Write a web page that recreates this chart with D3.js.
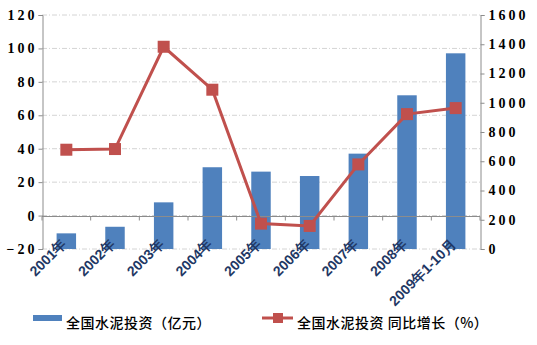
<!DOCTYPE html>
<html><head><meta charset="utf-8">
<script src="https://cdn.jsdelivr.net/npm/d3@7/dist/d3.min.js"></script>
<style>
html,body{margin:0;padding:0;background:#fff;}
svg{display:block;}
</style></head>
<body>
<svg id="chart" width="537" height="345"></svg>
<script>
const categories = ["2001年","2002年","2003年","2004年","2005年","2006年","2007年","2008年","2009年1-10月"];
const investment = [107,152,319,559,529,499,652,1051,1338];
const growth = [39.4,39.8,101,75.3,-4.8,-6.2,30.6,60.7,64.3];
const leftTicks = [-20,0,20,40,60,80,100,120];
const rightTicks = [0,200,400,600,800,1000,1200,1400,1600];
const seriesNames = ["全国水泥投资（亿元）","全国水泥投资 同比增长（%）"];

const svg = d3.select("#chart");
const L = 42, R = 480, T = 15, B = 249;
const barColor = "#4F81BD", lineColor = "#C0504D", axisColor = "#8c8c8c";

const x = d3.scaleBand().domain(categories).range([L, R]).paddingInner(0.6).paddingOuter(0.3);
const yL = d3.scaleLinear().domain([-20,120]).range([B, T]);
const yR = d3.scaleLinear().domain([0,1600]).range([B, T]);

// gridlines
svg.append("g").selectAll("line").data(leftTicks).join("line")
  .attr("x1", L).attr("x2", R).attr("y1", d=>yL(d)).attr("y2", d=>yL(d))
  .attr("stroke", "#d4d4d4").attr("stroke-width", 1).attr("stroke-dasharray", "5,2,1,2");

// bars
svg.append("g").selectAll("rect").data(categories).join("rect")
  .attr("x", d=>x(d)).attr("width", x.bandwidth())
  .attr("y", (d,i)=>yR(investment[i])).attr("height", (d,i)=>yR(0)-yR(investment[i]))
  .attr("fill", barColor);

// zero line with category ticks
const zeroY = Math.round(yL(0)) + 0.5;
svg.append("line").attr("x1", L).attr("x2", R).attr("y1", zeroY).attr("y2", zeroY)
  .attr("stroke", axisColor).attr("stroke-width", 1);
const bounds = d3.range(categories.length + 1).map(i => L + i * x.step());
svg.append("g").selectAll("line").data(bounds).join("line")
  .attr("x1", d=>d).attr("x2", d=>d).attr("y1", zeroY).attr("y2", zeroY + 4)
  .attr("stroke", axisColor);

// left axis
const axL = svg.append("g").attr("transform", `translate(${L+0.5},0)`)
  .call(d3.axisLeft(yL).tickValues(leftTicks).tickSize(4).tickPadding(1).tickFormat(d3.format("d")));
axL.select(".domain").attr("stroke", axisColor);
axL.selectAll(".tick line").attr("stroke", axisColor);
axL.selectAll(".tick text").attr("font-family", "'Liberation Serif', serif").attr("font-size", 14)
  .attr("font-weight", "bold").attr("letter-spacing", "3px").attr("fill", "#000");

// right axis
const axR = svg.append("g").attr("transform", `translate(${R+0.5},0)`)
  .call(d3.axisRight(yR).tickValues(rightTicks).tickSize(4).tickPadding(4).tickFormat(d3.format("d")));
axR.select(".domain").attr("stroke", axisColor);
axR.selectAll(".tick line").attr("stroke", axisColor);
axR.selectAll(".tick text").attr("font-family", "'Liberation Serif', serif").attr("font-size", 14)
  .attr("font-weight", "bold").attr("letter-spacing", "3px").attr("fill", "#000");

// line
const cx = d => x(d) + x.bandwidth()/2;
svg.append("path").datum(categories)
  .attr("d", d3.line().x(d=>cx(d)).y((d,i)=>yL(growth[i])))
  .attr("fill", "none").attr("stroke", lineColor).attr("stroke-width", 3);
svg.append("g").selectAll("rect").data(categories).join("rect")
  .attr("x", d=>cx(d)-6).attr("y", (d,i)=>yL(growth[i])-6)
  .attr("width", 12).attr("height", 12).attr("fill", lineColor);

// x labels
svg.append("g").selectAll("text").data(categories).join("text")
  .attr("transform", d=>`translate(${cx(d)+1},${245}) rotate(-45)`)
  .attr("text-anchor", "end")
  .attr("font-family", "'Liberation Sans', Arial, sans-serif").attr("font-size", 14).attr("font-weight", "bold")
  .attr("fill", "#1F3864").text(d=>d);

// legend
const lg = svg.append("g");
lg.append("rect").attr("x", 33).attr("y", 315).attr("width", 29).attr("height", 6).attr("fill", barColor);
lg.append("text").attr("x", 66).attr("y", 328).attr("font-family", "'Noto Sans CJK SC', sans-serif")
  .attr("font-size", 14).attr("font-weight", 500).attr("letter-spacing", "0.5px").attr("fill", "#000").text(seriesNames[0]);
lg.append("line").attr("x1", 262).attr("x2", 293).attr("y1", 318).attr("y2", 318)
  .attr("stroke", lineColor).attr("stroke-width", 3);
lg.append("rect").attr("x", 273).attr("y", 313).attr("width", 10).attr("height", 10).attr("fill", lineColor);
lg.append("text").attr("x", 297).attr("y", 328).attr("font-family", "'Noto Sans CJK SC', sans-serif")
  .attr("font-size", 14).attr("font-weight", 500).attr("letter-spacing", "0.5px").attr("fill", "#000").text(seriesNames[1]);
</script>
</body></html>
